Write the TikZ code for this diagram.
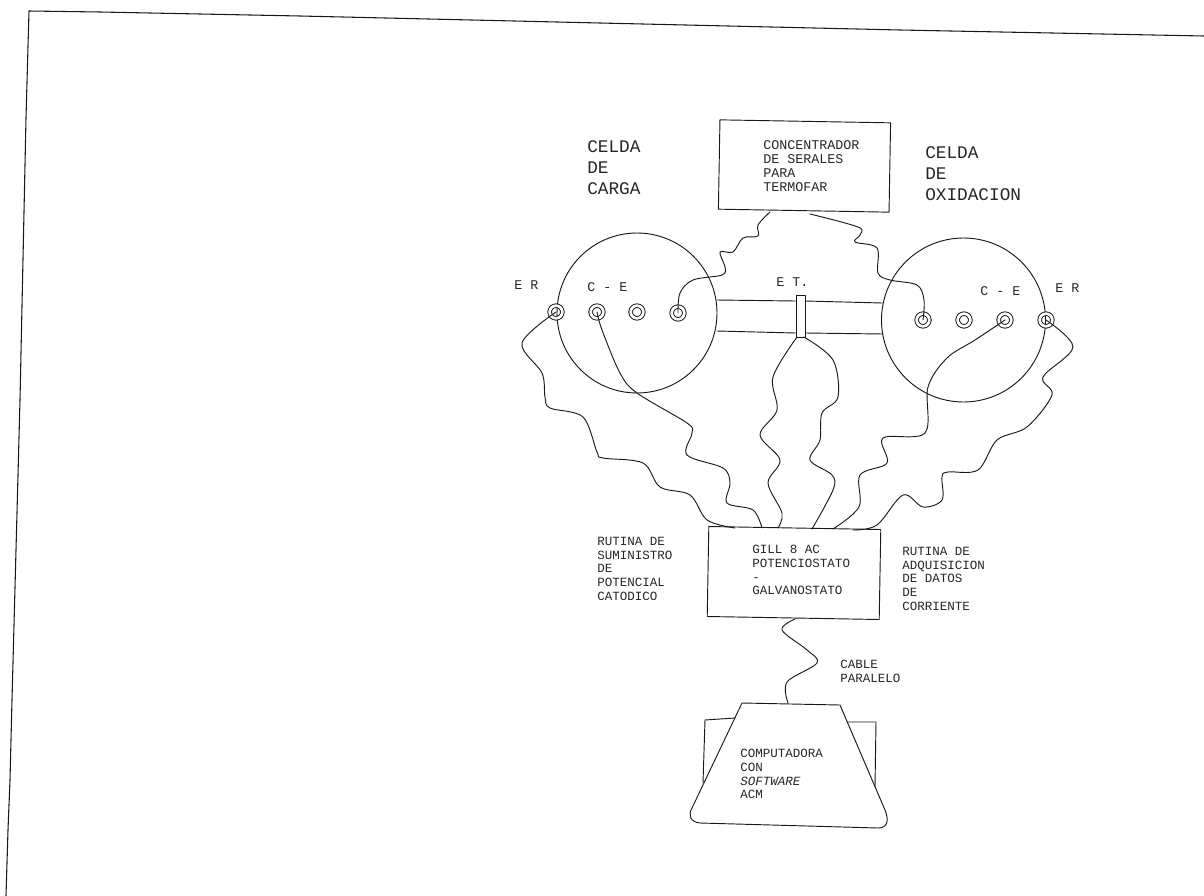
\documentclass[tikz,border=0pt]{standalone}
\usepackage{fontspec}
\setmainfont{Liberation Mono}
\tikzset{
  ln/.style={line width=0.7pt,black!90,line cap=round,line join=round},
  wire/.style={ln},
  bx/.style={draw,ln,rectangle,inner sep=0pt,rotate=-1},
  cell/.style={draw,ln,circle,inner sep=0pt,minimum size=120pt},
  terminal/.style={draw,ln,circle,inner sep=0pt,minimum size=9.5pt,double,double distance=2pt},
  lab/.style={anchor=north west,inner sep=0pt,align=left,text=black!85},
  big/.style={lab,font=\fontsize{13.3}{14.8}\selectfont},
  med/.style={lab,font=\fontsize{10}{10.6}\selectfont},
  small/.style={lab,font=\fontsize{9.4}{10.3}\selectfont}
}
\newcommand{\wirepath}[1]{\draw[wire] plot[smooth,tension=0.55] coordinates {#1};}
\begin{document}
\begin{tikzpicture}[x=0.75pt,y=-0.75pt]
\useasboundingbox (0,0) rectangle (1204,896);
% page frame
\draw[ln,line width=0.8pt] (6,896) -- (8,830) -- (10,780) -- (12,700) -- (20,400) -- (26,118) -- (29,11) -- (100,12) -- (300,16) -- (600,23) -- (900,30) -- (1204,36);
% boxes
\node[bx,minimum width=128pt,minimum height=67pt] (conc) at (804.5,166) {};
\node[bx,minimum width=129pt,minimum height=67.5pt] (gill) at (794,573) {};
% cells
\node[cell] (cellL) at (637,313) {};
\node[cell,minimum size=123pt] (cellR) at (963.5,320) {};
% terminals
\node[terminal] (l1) at (556,312) {};
\node[terminal] (l2) at (597,312) {};
\node[terminal] (l3) at (637,312) {};
\node[terminal] (l4) at (678,313) {};
\node[terminal] (r1) at (923,320) {};
\node[terminal] (r2) at (964,320) {};
\node[terminal] (r3) at (1005,320) {};
\node[terminal] (r4) at (1046,320) {};
% thermocouple sleeve and tube
\node[draw,ln,rectangle,inner sep=0pt,minimum width=6.8pt,minimum height=31pt] (et) at (800.5,316.5) {};
\coordinate (tubeLa) at (717,300);
\coordinate (tubeLb) at (717,331);
\coordinate (tubeRa) at (882,303);
\coordinate (tubeRb) at (883,334);
\draw[ln] (tubeLa) -- (et.north west |- 0,301);
\draw[ln] (tubeLb) -- (et.south west |- 0,333);
\draw[ln] (et.north east |- 0,301) -- (tubeRa);
\draw[ln] (et.south east |- 0,333) -- (tubeRb);
% attach points
\coordinate (cA) at (770,212);
\coordinate (cB) at (810,214);
\coordinate (eA) at (797,337);
\coordinate (eB) at (804,337);
\coordinate (g1) at (735,528);
\coordinate (g2) at (762,528);
\coordinate (g3) at (778,528);
\coordinate (g4) at (812,529);
\coordinate (g5) at (833,529);
\coordinate (g6) at (853,530);
\coordinate (gB) at (795,619);
\coordinate (pcT) at (788,703);
% wires
\wirepath{(cA) (758,225) (758,236) (743,238) (733,252) (720,252) (725,267) (722,275) (693,280) (680,293) (l4.center)}
\wirepath{(cB) (858,227) (860,235) (855,242) (877,248) (878,273) (890,280) (917,285) (924,300) (r1.center)}
\wirepath{(l1.center) (522,343) (542,373) (545,397) (550,408) (583,417) (597,452) (603,458) (643,463) (660,487) (690,495) (707,520) (g1)}
\wirepath{(l2.center) (602,330) (620,373) (637,393) (687,423) (692,433) (687,455) (723,468) (730,483) (727,503) (753,510) (g2)}
\wirepath{(eA) (773,377) (777,410) (760,435) (780,460) (768,483) (782,513) (g3)}
\wirepath{(eB) (833,360) (838,397) (822,413) (820,440) (810,460) (832,475) (833,490) (g4)}
\wirepath{(r3.center) (975,340) (947,358) (928,387) (925,433) (883,438) (887,463) (860,475) (859,507) (g5)}
\wirepath{(r4.center) (1073,347) (1043,377) (1052,395) (1027,427) (997,440) (978,470) (948,472) (942,477) (942,500) (923,507) (903,495) (877,525) (g6)}
\wirepath{(gB) (782,630) (807,650) (817,663) (787,682) (pcT)}
% computer
\draw[ln] (735,718) -- (705,720) -- (703,783);
\draw[ln] (847,722) -- (876,722) -- (875,787);
\draw[ln] (742,703) -- (840,705) -- (885,810) .. controls (889,820) and (888,828) .. (878,828) -- (700,823) .. controls (690,822) and (688,815) .. (692,808) -- cycle;
% labels
\node[big] (t1) at (587,140) {CELDA\\[1pt]DE\\[1pt]CARGA};
\node[big] (t2) at (925,146) {CELDA\\[1pt]DE\\[1pt]OXIDACION};
\node[med] (t3) at (763,140) {CONCENTRADOR\\DE SERALES\\PARA\\TERMOFAR};
\node[med] (t4) at (514,280) {E R};
\node[med] (t5) at (587,282) {C - E};
\node[med] (t6) at (776,277) {E T.};
\node[med] (t7) at (980,286) {C - E};
\node[med] (t8) at (1055,283) {E R};
\node[small] (t9) at (597,537) {RUTINA DE\\SUMINISTRO\\DE\\POTENCIAL\\CATODICO};
\node[small] (t10) at (902,547) {RUTINA DE\\ADQUISICION\\DE DATOS\\DE\\CORRIENTE};
\node[small] (t11) at (752,545) {GILL 8 AC\\POTENCIOSTATO\\-\\GALVANOSTATO};
\node[small] (t12) at (840,660) {CABLE\\PARALELO};
\node[small] (t13) at (740,749) {COMPUTADORA\\CON\\\textit{SOFTWARE}\\ACM};
\end{tikzpicture}
\end{document}
